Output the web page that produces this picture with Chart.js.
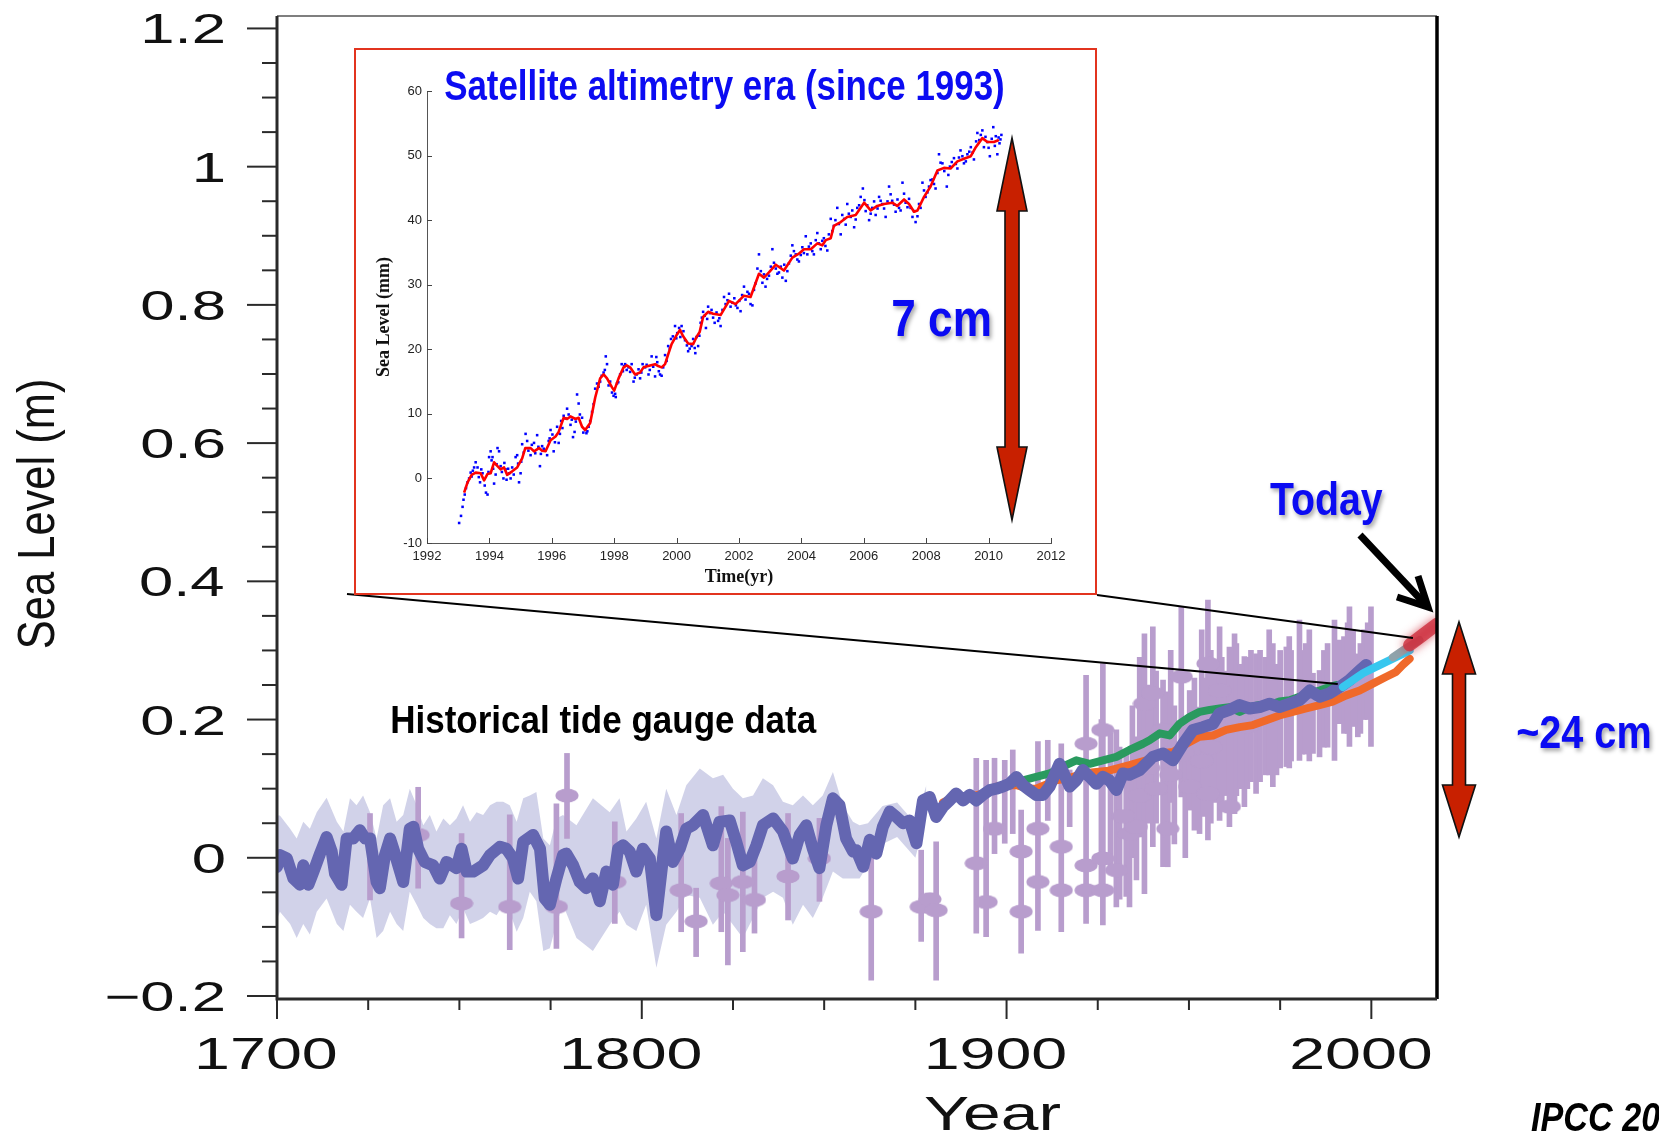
<!DOCTYPE html>
<html>
<head>
<meta charset="utf-8">
<title>Sea level since 1700</title>
<script src="https://cdn.jsdelivr.net/npm/chart.js@4.4.1/dist/chart.umd.min.js"></script>
<style>
  html, body { margin: 0; padding: 0; background: #fff; }
  #wrap { position: relative; width: 1659px; height: 1132px; overflow: hidden; }
  #main-chart { position: absolute; left: 0; top: 0; }
  #inset { position: absolute; left: 354px; top: 48px; width: 739px; height: 543px; border: 2px solid #e2341f; background: #fff; }
  #inset-chart { display: block; }
</style>
</head>
<body>
<div id="wrap">
  <canvas id="main-chart" width="1659" height="1132"></canvas>
  <div id="inset"><canvas id="inset-chart" width="739" height="543"></canvas></div>
</div>
<script>
// ---- main chart data (sea level in metres) ----
const reconstruction = [
  [1700.0, -0.013], [1700.8, 0.004], [1702.7, -0.001], [1704.5, -0.030], [1706.3, -0.039],
  [1707.2, -0.011], [1708.6, -0.039], [1710.0, -0.020], [1711.8, 0.006], [1713.6, 0.030],
  [1715.0, 0.009], [1715.9, -0.023], [1717.7, -0.039], [1719.1, 0.028], [1720.9, 0.028],
  [1722.7, 0.040], [1724.1, 0.028], [1725.5, 0.028], [1727.3, -0.035], [1728.2, -0.044],
  [1729.6, 0.004], [1731.0, 0.028], [1732.3, 0.006], [1734.6, -0.035], [1736.4, 0.042],
  [1737.4, 0.045], [1738.7, 0.013], [1740.5, -0.006], [1742.8, -0.011], [1744.6, -0.030],
  [1746.5, -0.006], [1749.2, -0.015], [1750.6, 0.013], [1752.0, -0.020], [1753.8, -0.020],
  [1756.5, -0.011], [1758.4, 0.004], [1761.1, 0.016], [1762.9, 0.013], [1764.7, -0.001],
  [1766.1, -0.030], [1767.5, 0.023], [1770.2, 0.033], [1772.1, 0.013], [1773.4, -0.059],
  [1774.8, -0.068], [1776.6, -0.030], [1778.4, 0.004], [1779.3, 0.006], [1781.2, -0.011],
  [1783.0, -0.035], [1784.8, -0.044], [1786.6, -0.030], [1788.5, -0.063], [1790.3, -0.020],
  [1792.1, -0.039], [1793.5, 0.013], [1794.9, 0.018], [1796.7, 0.009], [1798.5, -0.020],
  [1800.3, 0.013], [1802.2, -0.001], [1804.0, -0.083], [1805.8, -0.001], [1806.7, 0.038],
  [1808.5, -0.006], [1810.4, 0.013], [1812.2, 0.042], [1814.0, 0.047], [1816.8, 0.062],
  [1819.5, 0.018], [1821.3, 0.052], [1824.1, 0.054], [1825.9, 0.023], [1827.7, -0.011],
  [1829.6, -0.006], [1831.4, 0.018], [1833.2, 0.047], [1836.0, 0.057], [1838.7, 0.038],
  [1841.4, -0.001], [1843.3, 0.033], [1845.1, 0.047], [1846.9, 0.013], [1848.7, -0.015],
  [1850.6, 0.047], [1852.4, 0.086], [1854.2, 0.076], [1856.0, 0.028], [1857.9, 0.009],
  [1858.8, 0.011], [1860.7, -0.013], [1862.5, 0.026], [1864.3, 0.006], [1866.1, 0.045],
  [1868.0, 0.067], [1869.8, 0.059], [1871.6, 0.050], [1873.4, 0.054], [1875.3, 0.021],
  [1877.1, 0.083], [1878.9, 0.088], [1880.7, 0.059], [1882.6, 0.074], [1884.4, 0.083],
  [1886.2, 0.093], [1888.1, 0.083], [1889.9, 0.091], [1891.7, 0.083], [1893.5, 0.091],
  [1895.4, 0.098], [1897.2, 0.100], [1899.0, 0.103], [1900.8, 0.107], [1902.7, 0.117],
  [1904.5, 0.105], [1906.3, 0.098], [1908.1, 0.091], [1910.0, 0.091], [1911.8, 0.103],
  [1914.5, 0.136], [1917.3, 0.103], [1919.1, 0.112], [1920.9, 0.127], [1922.8, 0.117],
  [1924.6, 0.107], [1926.4, 0.117], [1928.2, 0.112], [1930.1, 0.098], [1931.9, 0.122],
  [1933.7, 0.120], [1936.5, 0.127], [1940.1, 0.146], [1942.9, 0.151], [1945.6, 0.141],
  [1948.4, 0.165], [1951.1, 0.185], [1953.8, 0.189], [1956.6, 0.194], [1958.4, 0.209],
  [1961.1, 0.214], [1963.9, 0.221], [1966.6, 0.216], [1969.4, 0.218], [1972.1, 0.223],
  [1974.8, 0.218], [1977.6, 0.223], [1980.3, 0.228], [1983.1, 0.242], [1985.8, 0.233],
  [1988.5, 0.238], [1991.3, 0.247], [1994.0, 0.257], [1996.8, 0.271], [1998.6, 0.279]
];

// uncertainty band of the reconstruction: [year, low, high]
const reconBand = [
  [1699.5, -0.096, 0.061], [1700.8, -0.078, 0.061], [1703.6, -0.096, 0.042], [1705.4, -0.116, 0.028],
  [1707.2, -0.096, 0.052], [1709.0, -0.111, 0.042], [1710.9, -0.078, 0.066], [1713.6, -0.059, 0.087],
  [1716.4, -0.096, 0.052], [1718.2, -0.106, 0.038], [1720.0, -0.068, 0.086], [1721.8, -0.078, 0.076],
  [1723.6, -0.087, 0.090], [1725.5, -0.059, 0.066], [1727.3, -0.116, 0.028], [1729.1, -0.106, 0.076],
  [1731.0, -0.078, 0.086], [1732.8, -0.096, 0.052], [1734.6, -0.106, 0.062], [1736.4, -0.049, 0.100],
  [1738.3, -0.068, 0.076], [1740.1, -0.087, 0.047], [1741.9, -0.096, 0.062], [1743.7, -0.102, 0.038],
  [1745.6, -0.102, 0.057], [1747.4, -0.083, 0.047], [1749.2, -0.096, 0.057], [1751.0, -0.073, 0.076],
  [1752.9, -0.096, 0.052], [1754.7, -0.092, 0.066], [1756.5, -0.087, 0.062], [1758.4, -0.078, 0.076],
  [1760.2, -0.083, 0.081], [1762.0, -0.068, 0.081], [1763.8, -0.078, 0.076], [1765.7, -0.107, 0.052],
  [1767.5, -0.087, 0.086], [1769.3, -0.049, 0.090], [1771.1, -0.063, 0.095], [1773.0, -0.135, 0.028],
  [1774.8, -0.131, 0.018], [1776.6, -0.096, 0.057], [1778.4, -0.068, 0.062], [1782.1, -0.116, 0.047],
  [1786.6, -0.135, 0.086], [1791.2, -0.097, 0.066], [1793.9, -0.078, 0.086], [1795.8, -0.097, 0.038],
  [1798.5, -0.106, 0.057], [1801.2, -0.068, 0.081], [1804.0, -0.159, 0.028], [1806.7, -0.097, 0.100],
  [1809.5, -0.078, 0.062], [1812.2, -0.054, 0.105], [1815.9, -0.058, 0.129], [1819.5, -0.097, 0.115],
  [1822.3, -0.078, 0.120], [1825.0, -0.097, 0.100], [1827.7, -0.116, 0.086], [1830.5, -0.087, 0.090],
  [1833.2, -0.058, 0.115], [1836.0, -0.049, 0.105], [1838.7, -0.058, 0.081], [1841.4, -0.097, 0.076],
  [1844.2, -0.068, 0.090], [1846.9, -0.087, 0.076], [1849.6, -0.058, 0.090], [1852.4, -0.020, 0.124],
  [1855.1, -0.030, 0.076], [1857.9, -0.030, 0.052], [1859.7, -0.030, 0.047], [1862.0, -0.010, 0.050],
  [1866.0, 0.020, 0.075], [1870.0, 0.030, 0.080], [1875.0, 0.000, 0.050], [1878.0, 0.060, 0.105]
];

// individual tide-gauge estimates: [year, low, high]
const gaugeBars = [
  [1725.5, -0.061, 0.064], [1738.7, -0.044, 0.102], [1750.6, -0.116, 0.035], [1763.8, -0.133, 0.062],
  [1776.6, -0.131, 0.078], [1779.5, 0.028, 0.151], [1792.6, -0.095, 0.052], [1810.8, -0.107, 0.064],
  [1814.9, -0.143, -0.044], [1821.8, -0.107, 0.074], [1823.6, -0.155, 0.028], [1827.7, -0.136, 0.066],
  [1830.9, -0.109, 0.013], [1840.1, -0.090, 0.064], [1848.7, -0.063, 0.057], [1862.9, -0.177, 0.016],
  [1876.6, -0.121, 0.011], [1880.7, -0.177, 0.023], [1891.7, -0.109, 0.144], [1894.4, -0.114, 0.141],
  [1896.7, 0.006, 0.144], [1899.5, 0.021, 0.141], [1901.7, 0.035, 0.156], [1904.0, -0.138, 0.069],
  [1908.6, -0.105, 0.168], [1911.3, 0.054, 0.170], [1915.0, -0.107, 0.165], [1917.3, 0.045, 0.127],
  [1921.8, -0.095, 0.264], [1926.0, -0.050, 0.200], [1926.4, -0.097, 0.281], [1928.5, -0.020, 0.180],
  [1930.1, -0.071, 0.185], [1931.0, -0.060, 0.160], [1932.8, -0.056, 0.151], [1933.7, -0.071, 0.132],
  [1934.5, 0.000, 0.220], [1935.6, -0.032, 0.175], [1936.5, 0.030, 0.290], [1937.8, -0.052, 0.324],
  [1939.0, 0.050, 0.250], [1940.1, 0.016, 0.334], [1941.0, 0.050, 0.270], [1942.9, -0.013, 0.257],
  [1943.5, 0.030, 0.240], [1944.2, -0.013, 0.132], [1945.0, 0.080, 0.300], [1946.0, 0.020, 0.220],
  [1947.9, 0.088, 0.363], [1949.0, 0.000, 0.200], [1950.2, 0.069, 0.242], [1951.5, 0.040, 0.260],
  [1952.9, 0.035, 0.218], [1953.5, 0.100, 0.330], [1954.0, 0.060, 0.260], [1955.2, 0.026, 0.373],
  [1956.0, 0.050, 0.300], [1957.0, 0.080, 0.280], [1958.4, 0.054, 0.334], [1959.0, 0.070, 0.290],
  [1960.0, 0.090, 0.270], [1961.1, 0.045, 0.305], [1962.5, 0.064, 0.324], [1963.0, 0.090, 0.310],
  [1964.0, 0.100, 0.280], [1965.2, 0.074, 0.291], [1966.0, 0.100, 0.290], [1967.0, 0.110, 0.300],
  [1968.4, 0.093, 0.295], [1969.5, 0.110, 0.300], [1971.0, 0.120, 0.290], [1972.0, 0.120, 0.330],
  [1973.0, 0.103, 0.310], [1974.0, 0.120, 0.280], [1975.0, 0.130, 0.300], [1976.7, 0.132, 0.305],
  [1977.5, 0.130, 0.320], [1978.0, 0.140, 0.300], [1980.3, 0.141, 0.344], [1981.0, 0.150, 0.300],
  [1982.0, 0.150, 0.310], [1983.0, 0.140, 0.330], [1984.0, 0.151, 0.267], [1985.8, 0.146, 0.271],
  [1987.0, 0.160, 0.300], [1988.0, 0.160, 0.310], [1989.9, 0.141, 0.344], [1991.3, 0.194, 0.315],
  [1992.5, 0.180, 0.320], [1993.5, 0.180, 0.340], [1994.0, 0.161, 0.363], [1995.0, 0.190, 0.330],
  [1996.3, 0.175, 0.295], [1997.0, 0.180, 0.310], [1998.0, 0.200, 0.330], [1999.0, 0.200, 0.340],
  [1999.9, 0.161, 0.363]
];

// central estimates drawn as ellipses on the gauge bars: [year, level]
const gaugeMarkers = [
  [1738.7, 0.033], [1750.6, -0.066], [1763.8, -0.071], [1776.6, -0.071], [1779.5, 0.090],
  [1792.6, -0.035], [1810.8, -0.047], [1814.9, -0.092], [1821.8, -0.037], [1823.6, -0.054],
  [1827.7, -0.035], [1830.9, -0.061], [1840.1, -0.027], [1848.7, -0.001], [1862.9, -0.078],
  [1876.6, -0.071], [1879.0, -0.060], [1880.7, -0.076], [1891.7, -0.008], [1894.4, -0.064],
  [1896.7, 0.042], [1904.0, 0.009], [1904.0, -0.078], [1908.6, 0.042], [1908.6, -0.035],
  [1915.0, 0.016], [1915.0, -0.047], [1921.8, 0.165], [1921.8, -0.011], [1921.8, -0.047],
  [1926.4, 0.185], [1926.4, -0.001], [1926.4, -0.047], [1930.1, -0.018], [1933.7, 0.035],
  [1935.6, 0.045], [1937.8, 0.223], [1940.1, 0.238], [1942.9, 0.185], [1944.2, 0.042],
  [1947.9, 0.262], [1950.2, 0.103], [1955.2, 0.281], [1955.2, 0.093], [1958.4, 0.242],
  [1961.1, 0.074], [1932.0, 0.060], [1936.5, 0.090], [1939.0, 0.130], [1941.0, 0.100],
  [1945.0, 0.120], [1948.5, 0.150], [1951.5, 0.170], [1953.5, 0.140], [1956.0, 0.160],
  [1959.0, 0.190], [1963.0, 0.200], [1966.0, 0.190], [1970.0, 0.210]
];

const orangeRecord = [
  [1882.6, 0.080], [1886.0, 0.088], [1890.0, 0.088], [1893.5, 0.093], [1897.2, 0.103],
  [1900.0, 0.105], [1902.7, 0.105], [1906.0, 0.100], [1908.1, 0.100], [1913.6, 0.112],
  [1917.0, 0.115], [1920.9, 0.122], [1924.6, 0.124], [1928.0, 0.126], [1930.1, 0.129],
  [1933.7, 0.134], [1938.3, 0.141], [1942.0, 0.151], [1945.6, 0.153], [1949.3, 0.165],
  [1952.9, 0.175], [1956.6, 0.177], [1960.2, 0.185], [1963.9, 0.189], [1967.5, 0.192],
  [1971.2, 0.199], [1974.8, 0.206], [1978.5, 0.211], [1982.1, 0.216], [1985.8, 0.221],
  [1989.4, 0.226], [1993.1, 0.235], [1996.8, 0.242], [2000.4, 0.252], [2004.1, 0.262],
  [2006.8, 0.269], [2008.6, 0.279], [2010.5, 0.288]
];

const greenRecord = [
  [1900.8, 0.107], [1904.5, 0.112], [1908.1, 0.117], [1911.8, 0.122], [1915.4, 0.132],
  [1919.1, 0.141], [1922.8, 0.136], [1926.4, 0.141], [1930.1, 0.146], [1933.7, 0.156],
  [1937.4, 0.165], [1939.2, 0.170], [1942.0, 0.180], [1944.7, 0.177], [1947.4, 0.194],
  [1950.2, 0.204], [1952.9, 0.211], [1955.7, 0.214], [1958.4, 0.216], [1961.1, 0.218],
  [1963.9, 0.211], [1966.6, 0.218], [1969.4, 0.221], [1972.1, 0.221], [1974.8, 0.226],
  [1977.6, 0.228], [1980.3, 0.233], [1983.1, 0.238], [1985.8, 0.242], [1988.5, 0.247],
  [1990.4, 0.250]
];

const satelliteRecord = [
  [1992.2, 0.247], [1994.9, 0.257], [1997.7, 0.267], [2000.4, 0.274], [2003.1, 0.281],
  [2005.9, 0.288], [2008.6, 0.295], [2010.5, 0.300]
];

const greyRecord = [[2005.9, 0.290], [2009.5, 0.303], [2013.2, 0.315]];
const todayRecord = [[2010.5, 0.308], [2014.0, 0.322], [2018.0, 0.338]];

const xTickValues = [1700, 1800, 1900, 2000];
const xTickLabels = ['1700', '1800', '1900', '2000'];
const yTickValues = [-0.2, 0, 0.2, 0.4, 0.6, 0.8, 1, 1.2];
const yTickLabels = ['\u22120.2', '0', '0.2', '0.4', '0.6', '0.8', '1', '1.2'];

// ---- inset data (satellite altimetry, mm) ----
const altSmoothYears = [
  1993.19, 1993.30, 1993.43, 1993.56, 1993.72, 1993.83, 1993.94, 1994.04, 1994.15, 1994.26,
  1994.36, 1994.47, 1994.57, 1994.73, 1994.89, 1995.05, 1995.15, 1995.32, 1995.43, 1995.59,
  1995.69, 1995.80, 1995.96, 1996.12, 1996.22, 1996.38, 1996.49, 1996.60, 1996.76, 1996.86,
  1996.97, 1997.07, 1997.23, 1997.39, 1997.55, 1997.66, 1997.77, 1997.93, 1998.00, 1998.14,
  1998.30, 1998.40, 1998.51, 1998.67, 1998.83, 1998.94, 1999.15, 1999.31, 1999.41, 1999.52,
  1999.63, 1999.73, 1999.84, 2000.00, 2000.11, 2000.21, 2000.37, 2000.53, 2000.64, 2000.74,
  2000.85, 2001.01, 2001.17, 2001.41, 2001.68, 2001.89, 2002.16, 2002.37, 2002.64, 2002.80,
  2002.96, 2003.18, 2003.44, 2003.71, 2003.92, 2004.08, 2004.30, 2004.51, 2004.67, 2004.78,
  2004.94, 2005.04, 2005.26, 2005.47, 2005.74, 2006.01, 2006.22, 2006.43, 2006.65, 2006.91,
  2007.07, 2007.29, 2007.45, 2007.61, 2007.72, 2007.93, 2008.14, 2008.36, 2008.57, 2008.78,
  2009.00, 2009.21, 2009.43, 2009.59, 2009.80, 2009.96, 2010.17, 2010.33
];
const altSmoothLevel = [
  -2.2, -0.6, 0.55, 0.9, 0.8, -0.3, 0.7, 0.8, 2.5, 1.9,
  1.4, 1.7, 0.55, 1.1, 1.7, 3.1, 4.7, 4.7, 4.2, 4.7,
  4.3, 4.2, 5.9, 6.5, 7.2, 9.4, 9.2, 9.6, 9.2, 9.4,
  8.0, 7.5, 8.6, 12.5, 15.5, 16.1, 15.5, 14.1, 13.6, 15.5,
  17.2, 17.5, 17.2, 16.1, 16.4, 17.2, 17.5, 17.7, 17.4, 17.2,
  17.7, 19.2, 20.8, 22.2, 23.0, 22.0, 20.9, 20.8, 21.9, 22.7,
  25.0, 25.8, 25.5, 25.3, 27.5, 27.0, 28.3, 28.1, 31.7, 31.1,
  31.9, 33.1, 32.2, 34.2, 34.8, 35.5, 35.5, 36.4, 36.1, 36.9,
  37.2, 39.1, 39.7, 40.5, 40.8, 42.7, 41.5, 42.2, 42.5, 42.7,
  42.2, 43.2, 42.5, 41.3, 41.5, 43.6, 45.2, 47.7, 48.1, 48.0,
  49.1, 49.5, 49.9, 51.3, 52.7, 52.1, 52.1, 52.4
];

const altDotYears = [
  1993.03, 1993.09, 1993.14, 1993.17, 1993.21, 1993.30, 1993.35, 1993.43, 1993.51, 1993.56,
  1993.62, 1993.70, 1993.78, 1993.85, 1993.89, 1993.94, 1993.99, 1994.04, 1994.10, 1994.15,
  1994.20, 1994.26, 1994.31, 1994.36, 1994.45, 1994.52, 1994.63, 1994.68, 1994.73, 1994.84,
  1994.89, 1994.95, 1995.00, 1995.05, 1995.16, 1995.21, 1995.32, 1995.43, 1995.53, 1995.62,
  1995.69, 1995.80, 1995.90, 1995.96, 1996.06, 1996.17, 1996.22, 1996.30, 1996.38, 1996.49,
  1996.60, 1996.68, 1996.73, 1996.81, 1996.86, 1996.97, 1997.07, 1997.18, 1997.29, 1997.39,
  1997.45, 1997.55, 1997.66, 1997.73, 1997.77, 1997.87, 1997.93, 1997.98, 1998.09, 1998.19,
  1998.24, 1998.35, 1998.46, 1998.56, 1998.62, 1998.72, 1998.83, 1998.91, 1998.99, 1999.10,
  1999.20, 1999.31, 1999.38, 1999.47, 1999.57, 1999.63, 1999.73, 1999.82, 1999.95, 2000.02,
  2000.16, 2000.27, 2000.37, 2000.48, 2000.53, 2000.64, 2000.69, 2000.77, 2000.85, 2000.94,
  2001.01, 2001.12, 2001.22, 2001.33,
  2001.41, 2001.52, 2001.68, 2001.79, 2001.95, 2002.05, 2002.16, 2002.27, 2002.37, 2002.48,
  2002.59, 2002.64, 2002.75, 2002.85, 2002.96, 2003.07, 2003.18, 2003.28, 2003.39, 2003.50,
  2003.60, 2003.71, 2003.82, 2003.92, 2004.03, 2004.14, 2004.19, 2004.30, 2004.40, 2004.51,
  2004.62, 2004.72, 2004.83, 2004.94, 2005.04, 2005.15, 2005.26, 2005.37, 2005.47, 2005.58,
  2005.69, 2005.79, 2005.90, 2005.97, 2006.06, 2006.17, 2006.27, 2006.38, 2006.49, 2006.59,
  2006.70, 2006.81, 2006.91, 2007.02, 2007.13, 2007.24, 2007.34, 2007.45, 2007.56, 2007.66,
  2007.77, 2007.88, 2007.98, 2008.09, 2008.20, 2008.30, 2008.41, 2008.52, 2008.66, 2008.76,
  2008.89, 2009.00, 2009.10, 2009.21, 2009.32, 2009.43, 2009.53, 2009.64, 2009.75, 2009.85,
  2009.96, 2010.04, 2010.15, 2010.23, 2010.28, 2010.35, 2010.41
];
const altDotLevel = [
  -6.9, -5.8, -4.4, -3.3, -2.5, -0.6, 0, 0.3, 1.7, 2.5,
  1.7, -0.6, 0.8, -1.1, -2.2, -2.5, 3.3, 4.2, 3.3, -0.8,
  0.6, 4.7, 4.2, 1.9, 0, 1.4, 0.8, 0, 1.7, 3.3,
  3.6, -0.6, 0.8, 5.3, 6.9, 5.8, 3.6, 5.5, 6.7, 1.9,
  5.0, 4.4, 5.8, 7.5, 4.2, 8.0, 5.5, 8.9, 9.7, 10.8,
  8.3, 6.4, 7.2, 13.0, 11.6, 9.4, 7.5, 8.0, 10.3, 13.9,
  14.7, 15.0, 16.4, 18.9, 17.7, 15.0, 13.3, 12.8, 14.7, 16.1,
  17.7, 17.7, 17.2, 17.7, 15.0, 16.1, 15.5, 17.7, 17.2, 16.1,
  18.9, 15.8, 18.0, 16.1, 17.2, 19.1, 20.5, 21.6, 23.6, 22.5,
  23.6, 21.4, 19.7, 20.5, 21.6, 21.9, 20.5, 24.1, 25.8, 23.3,
  26.6, 26.1, 24.1, 24.4,
  23.6, 28.1, 28.6, 27.2, 26.4, 25.9, 29.7, 28.9, 27.0, 29.2,
  32.5, 34.7, 30.3, 29.7, 31.4, 35.5, 32.5, 31.9, 31.1, 30.6,
  33.3, 36.1, 34.7, 33.6, 35.8, 37.5, 34.7, 36.4, 34.7, 38.0,
  35.5, 37.2, 35.3, 40.2, 39.1, 41.9, 37.8, 40.2, 42.5, 40.5,
  38.9, 41.9, 43.6, 44.9, 41.4, 40.0, 41.9, 40.8, 43.6, 42.5,
  40.5, 45.2, 43.0, 41.3, 41.9, 45.8, 42.7, 43.3, 40.5, 39.7,
  42.5, 45.8, 43.6, 45.2, 46.3, 44.9, 50.2, 48.8, 45.2, 48.3,
  49.6, 48.0, 50.8, 48.8, 50.2, 51.3, 49.4, 53.5, 53.2, 51.3,
  52.1, 49.9, 54.4, 53.0, 50.2, 51.9, 53.2
];

// the denser run of 10-day values that sit close to the smoothed curve: [year, mm]
const altDotsNear = [
  [1993.25, -1.5], [1993.40, 0.9], [1993.47, 1.2], [1993.66, 0.2], [1993.74, 1.4], [1993.97, 1.0],
  [1994.07, 2.8], [1994.12, 1.5], [1994.23, 2.2], [1994.40, 1.0], [1994.48, 2.4], [1994.55, -0.2],
  [1994.60, 1.5], [1994.78, 0.6], [1994.92, 2.3], [1995.02, 2.6], [1995.10, 4.0], [1995.25, 4.3],
  [1995.36, 5.2], [1995.47, 3.9], [1995.57, 4.9], [1995.65, 3.8], [1995.74, 4.6], [1995.85, 3.6],
  [1995.93, 6.2], [1996.02, 6.8], [1996.10, 5.6], [1996.26, 6.9], [1996.34, 7.8], [1996.44, 9.3],
  [1996.54, 9.9], [1996.64, 9.1], [1996.77, 8.8], [1996.90, 9.9], [1997.01, 7.1], [1997.11, 7.0],
  [1997.14, 7.3], [1997.23, 8.9], [1997.34, 11.5], [1997.50, 14.2], [1997.60, 15.9], [1997.70, 16.8],
  [1997.82, 14.4], [1998.03, 13.1], [1998.05, 12.6], [1998.13, 14.9], [1998.28, 16.6], [1998.32, 17.4],
  [1998.40, 16.8], [1998.51, 16.5], [1998.66, 15.6], [1998.78, 16.9], [1998.87, 16.4], [1999.04, 17.6],
  [1999.14, 16.8], [1999.25, 17.3], [1999.35, 18.8], [1999.43, 16.6], [1999.52, 15.9], [1999.68, 18.2],
  [1999.78, 20.1], [1999.88, 22.0], [1999.99, 21.7], [2000.08, 23.3], [2000.12, 21.9], [2000.22, 22.8],
  [2000.33, 20.6], [2000.42, 20.1], [2000.58, 20.2], [2000.60, 19.4], [2000.73, 22.1], [2000.81, 24.9],
  [2000.90, 25.2], [2000.98, 24.7], [2001.07, 25.6], [2001.17, 24.9], [2001.28, 25.7], [2001.37, 24.8],
  [2001.47, 26.1], [2001.57, 27.0], [2001.63, 27.6], [2001.73, 26.6], [2001.85, 27.9], [2001.90, 26.8],
  [2002.01, 27.5], [2002.10, 28.4], [2002.21, 27.7], [2002.32, 28.6], [2002.43, 26.8], [2002.53, 30.2],
  [2002.70, 32.1], [2002.80, 31.6], [2002.90, 30.9], [2003.02, 32.8], [2003.12, 33.4], [2003.23, 31.7],
  [2003.34, 32.8], [2003.45, 33.1], [2003.55, 32.1], [2003.66, 34.5], [2003.76, 35.2], [2003.87, 33.9],
  [2003.98, 34.6], [2004.08, 34.9], [2004.24, 35.9], [2004.35, 35.2], [2004.46, 36.9], [2004.56, 36.4],
  [2004.67, 36.8], [2004.77, 36.0], [2004.88, 37.8], [2004.99, 38.3], [2005.09, 40.0], [2005.20, 39.4],
  [2005.31, 40.8], [2005.42, 39.3], [2005.52, 41.0], [2005.63, 41.5], [2005.74, 40.1], [2005.85, 42.3],
  [2006.02, 43.1], [2006.11, 42.3], [2006.22, 41.0], [2006.33, 42.9], [2006.44, 41.8], [2006.54, 43.0],
  [2006.65, 41.8], [2006.76, 42.9], [2006.86, 44.0], [2006.97, 42.4], [2007.08, 43.2], [2007.18, 41.5],
  [2007.29, 44.1], [2007.40, 42.0], [2007.50, 41.9], [2007.61, 41.4], [2007.72, 40.6], [2007.82, 41.9],
  [2007.93, 44.6], [2008.04, 44.3], [2008.14, 46.2], [2008.25, 45.6], [2008.36, 47.3], [2008.46, 48.9],
  [2008.58, 47.6], [2008.71, 47.0], [2008.82, 49.0], [2008.95, 48.7], [2009.05, 49.7], [2009.16, 49.9],
  [2009.27, 49.1], [2009.38, 50.6], [2009.49, 50.5], [2009.60, 52.2], [2009.70, 52.4], [2009.80, 53.9],
  [2009.90, 52.9], [2010.00, 51.2], [2010.10, 52.6], [2010.20, 51.5], [2010.32, 52.8], [2010.38, 52.5]
];

// ---- helpers ----
const gaugeColor = 'rgb(184,157,205)';
const blue = '#0b0bf2';
const narrow = '"Liberation Sans Narrow", "Liberation Sans", Arial, sans-serif';
const wide = '"Liberation Sans", Arial, sans-serif';

const pairs = rows => rows.map(r => ({x: r[0], y: r[1]}));
const zipXY = (xs, ys) => xs.map((x, i) => ({x: x, y: ys[i]}));

function inkWidth(ctx, text, font) {
    ctx.save();
    ctx.font = font;
    const m = ctx.measureText(text);
    ctx.restore();
    return m.actualBoundingBoxLeft + m.actualBoundingBoxRight;
}

// draw text squeezed/stretched horizontally so its ink matches a width
function drawText(ctx, text, x, y, o) {
    ctx.save();
    ctx.font = o.font;
    ctx.textAlign = 'left';
    ctx.textBaseline = 'alphabetic';
    const m = ctx.measureText(text);
    const ink = m.actualBoundingBoxLeft + m.actualBoundingBoxRight;
    const sx = o.width ? o.width / ink : (o.sx || 1);
    ctx.translate(x, y);
    if (o.rotate) ctx.rotate(o.rotate);
    ctx.scale(sx, 1);
    let dx = m.actualBoundingBoxLeft;
    if (o.align === 'center') dx -= ink / 2;
    if (o.align === 'right') dx -= ink;
    if (o.shadow) {
        ctx.shadowColor = 'rgba(0,0,0,0.35)';
        ctx.shadowBlur = 4;
        ctx.shadowOffsetX = 2;
        ctx.shadowOffsetY = 3;
    }
    ctx.fillStyle = o.color || '#000';
    ctx.fillText(text, dx, 0);
    ctx.restore();
}

function doubleArrow(ctx, cx, top, bottom, headHalf, headLen, shaftHalf) {
    ctx.save();
    ctx.beginPath();
    ctx.moveTo(cx, top);
    ctx.lineTo(cx + headHalf, top + headLen);
    ctx.lineTo(cx + shaftHalf, top + headLen);
    ctx.lineTo(cx + shaftHalf, bottom - headLen);
    ctx.lineTo(cx + headHalf, bottom - headLen);
    ctx.lineTo(cx, bottom);
    ctx.lineTo(cx - headHalf, bottom - headLen);
    ctx.lineTo(cx - shaftHalf, bottom - headLen);
    ctx.lineTo(cx - shaftHalf, top + headLen);
    ctx.lineTo(cx - headHalf, top + headLen);
    ctx.closePath();
    ctx.fillStyle = '#c82000';
    ctx.fill();
    ctx.lineWidth = 1.6;
    ctx.strokeStyle = '#111';
    ctx.stroke();
    ctx.restore();
}

function line(ctx, x1, y1, x2, y2) {
    ctx.beginPath();
    ctx.moveTo(x1, y1);
    ctx.lineTo(x2, y2);
    ctx.stroke();
}

// ellipse marker used for the tide gauge points
const ellipse = document.createElement('canvas');
ellipse.width = 24;
ellipse.height = 15;
(function () {
    const ec = ellipse.getContext('2d');
    ec.fillStyle = gaugeColor;
    ec.beginPath();
    ec.ellipse(12, 7.5, 11.5, 7, 0, 0, Math.PI * 2);
    ec.fill();
})();

// ---- main chart plugin: glow, axes, labels, annotations ----
const mainDecor = {
    id: 'mainDecor',
    beforeDatasetDraw(chart, args) {
        const ds = chart.data.datasets[args.index];
        if (ds.glow) {
            chart.ctx.save();
            chart.ctx.shadowColor = ds.glow;
            chart.ctx.shadowBlur = 10;
        }
    },
    afterDatasetDraw(chart, args) {
        if (chart.data.datasets[args.index].glow) chart.ctx.restore();
    },
    afterDraw(chart) {
        const {ctx, chartArea: a, scales: {x, y}} = chart;
        const axisY = a.bottom + 3;
        ctx.save();

        // connector lines from the inset to the satellite era
        ctx.strokeStyle = '#000';
        ctx.lineWidth = 2;
        line(ctx, 347, 594, x.getPixelForValue(1990.8), y.getPixelForValue(0.2515));
        line(ctx, 1097, 595, x.getPixelForValue(2011.4), y.getPixelForValue(0.318));

        // frame
        ctx.strokeStyle = '#555';
        ctx.lineWidth = 1.5;
        line(ctx, a.left, a.top, a.right, a.top);
        ctx.strokeStyle = '#000';
        ctx.lineWidth = 3.5;
        line(ctx, a.right, a.top, a.right, axisY);
        ctx.strokeStyle = '#2a2a2a';
        ctx.lineWidth = 3;
        ctx.beginPath();
        ctx.moveTo(a.left, a.top);
        ctx.lineTo(a.left, axisY);
        ctx.lineTo(a.right, axisY);
        ctx.stroke();

        // tick marks
        ctx.lineWidth = 2;
        for (let i = 0; i <= 28; i++) {
            const py = y.getPixelForValue(-0.2 + i * 0.05);
            const len = i % 4 === 0 ? 30 : 15;
            line(ctx, a.left - len, py, a.left, py);
        }
        for (let yr = 1700; yr <= 2000; yr += 25) {
            const px = x.getPixelForValue(yr);
            const len = yr % 100 === 0 ? 20 : 11;
            line(ctx, px, axisY, px, axisY + len);
        }

        // tick labels (wide lettering)
        const sx = 137 / inkWidth(ctx, '1700', '44px ' + wide);
        yTickValues.forEach((v, i) => {
            drawText(ctx, yTickLabels[i], 224, y.getPixelForValue(v) + 15,
                {font: '42px ' + wide, sx: sx, align: 'right', color: '#111'});
        });
        xTickValues.forEach((v, i) => {
            drawText(ctx, xTickLabels[i], x.getPixelForValue(v) - 10, 1069,
                {font: '44px ' + wide, sx: sx, align: 'center', color: '#111'});
        });

        // axis titles
        drawText(ctx, 'Year', 993, 1130, {font: '49px ' + wide, width: 135, align: 'center', color: '#111'});
        drawText(ctx, 'Sea Level (m)', 54, 514,
            {font: '52px ' + narrow, width: 267, align: 'center', rotate: -Math.PI / 2, color: '#111'});

        // annotations
        drawText(ctx, 'Historical tide gauge data', 392, 733, {font: 'bold 38px ' + narrow, width: 425});
        drawText(ctx, 'Today', 1270, 515, {font: 'bold 46px ' + narrow, width: 113, color: blue, shadow: true});
        drawText(ctx, '~24 cm', 1517, 748, {font: 'bold 46px ' + narrow, width: 133, color: blue, shadow: true});
        const ipccSx = 129 / inkWidth(ctx, 'IPCC 20', 'italic bold 40px ' + narrow);
        drawText(ctx, 'IPCC 2013', 1531, 1131, {font: 'italic bold 40px ' + narrow, sx: ipccSx});

        doubleArrow(ctx, 1459, 622, 837, 16.5, 52, 6.5);

        // "Today" pointer
        ctx.strokeStyle = '#000';
        ctx.lineWidth = 7;
        ctx.lineCap = 'butt';
        line(ctx, 1360, 535, 1425, 604);
        ctx.lineJoin = 'miter';
        ctx.beginPath();
        ctx.moveTo(1418, 576);
        ctx.lineTo(1428, 607);
        ctx.lineTo(1397, 597);
        ctx.stroke();

        ctx.restore();
    }
};

const mainChart = new Chart(document.getElementById('main-chart'), {
    type: 'line',
    data: {
        datasets: [
            {label: 'band low', data: pairs(reconBand.map(r => [r[0], r[1]])), borderWidth: 0, pointRadius: 0, fill: false, order: 11},
            {label: 'band high', data: pairs(reconBand.map(r => [r[0], r[2]])), borderWidth: 0, pointRadius: 0,
                fill: '-1', backgroundColor: 'rgba(104,106,182,0.30)', order: 10},
            {type: 'bar', label: 'tide gauges', data: gaugeBars.map(r => ({x: r[0], y: [r[1], r[2]]})),
                backgroundColor: gaugeColor, barThickness: 5, borderWidth: 0, order: 9},
            {label: 'gauge markers', data: pairs(gaugeMarkers), showLine: false, pointStyle: ellipse,
                pointRadius: 8, order: 8},
            {label: 'orange', data: pairs(orangeRecord), borderColor: '#f0692a', borderWidth: 8, pointRadius: 0, order: 7},
            {label: 'green', data: pairs(greenRecord), borderColor: '#2a9a5f', borderWidth: 8, pointRadius: 0, order: 6},
            {label: 'reconstruction', data: pairs(reconstruction), borderColor: '#6466b1', borderWidth: 12, pointRadius: 0, order: 5},
            {label: 'satellite', data: pairs(satelliteRecord), borderColor: '#37c7ef', borderWidth: 8, pointRadius: 0, order: 4},
            {label: 'grey', data: pairs(greyRecord), borderColor: '#8fa3ab', borderWidth: 8, pointRadius: 0, order: 3},
            {label: 'today', data: pairs(todayRecord), borderColor: 'rgba(206,48,62,0.8)', borderWidth: 13,
                pointRadius: 0, glow: 'rgba(206,48,62,0.9)', order: 2}
        ]
    },
    options: {
        responsive: false,
        animation: false,
        devicePixelRatio: 1,
        layout: {padding: {left: 277, right: 222, top: 16, bottom: 136}},
        plugins: {legend: {display: false}, tooltip: {enabled: false}},
        elements: {
            line: {tension: 0, fill: false, borderJoinStyle: 'round', borderCapStyle: 'round'},
            point: {radius: 0}
        },
        scales: {
            x: {type: 'linear', min: 1700, max: 2018, display: false, offset: false, grid: {offset: false}},
            y: {type: 'linear', min: -0.2, max: 1.218, display: false, beginAtZero: false}
        }
    },
    plugins: [mainDecor]
});

// ---- inset chart ----
const insetDecor = {
    id: 'insetDecor',
    afterDraw(chart) {
        const {ctx, chartArea: a, scales: {x, y}} = chart;
        ctx.save();
        ctx.strokeStyle = '#444';
        ctx.lineWidth = 1;
        for (let v = -10; v <= 60; v += 10) {
            const py = Math.round(y.getPixelForValue(v)) + 0.5;
            line(ctx, a.left, py, a.left + 5, py);
        }
        for (let yr = 1992; yr <= 2012; yr += 2) {
            const px = Math.round(x.getPixelForValue(yr)) + 0.5;
            line(ctx, px, a.bottom, px, a.bottom - 5);
        }
        drawText(ctx, 'Satellite altimetry era (since 1993)', 89, 50,
            {font: 'bold 42px ' + narrow, width: 558, color: blue});
        drawText(ctx, '7 cm', 537, 286, {font: 'bold 52px ' + narrow, width: 97, color: blue, shadow: true});
        doubleArrow(ctx, 656, 88, 470, 15, 73, 7);
        ctx.restore();
    }
};

const insetChart = new Chart(document.getElementById('inset-chart'), {
    type: 'line',
    data: {
        datasets: [
            {label: 'altimetry', data: zipXY(altDotYears, altDotLevel).concat(pairs(altDotsNear)), showLine: false,
                pointStyle: 'rect', pointRadius: 1.8, backgroundColor: '#0000ff', borderWidth: 0, order: 2},
            {label: 'smoothed', data: zipXY(altSmoothYears, altSmoothLevel), borderColor: '#ff0000',
                borderWidth: 2.6, pointRadius: 0, order: 1}
        ]
    },
    options: {
        responsive: false,
        animation: false,
        devicePixelRatio: 1,
        layout: {padding: {left: 0, right: 44, top: 41, bottom: 0}},
        plugins: {legend: {display: false}, tooltip: {enabled: false}},
        elements: {line: {tension: 0, fill: false, borderJoinStyle: 'round'}},
        scales: {
            x: {
                type: 'linear', min: 1992, max: 2012,
                grid: {display: false, drawTicks: false},
                border: {display: true, color: '#555', width: 1},
                ticks: {stepSize: 2, autoSkip: false, maxRotation: 0, padding: 6, color: '#222',
                    font: {family: wide, size: 13}, callback: v => String(v)},
                title: {display: true, text: 'Time(yr)', color: '#111', padding: {top: 0, bottom: 5},
                    font: {family: '"Liberation Serif", "Times New Roman", serif', size: 18, weight: 'bold'}},
                afterFit(scale) { scale.height = 50; }
            },
            y: {
                type: 'linear', min: -10, max: 60,
                grid: {display: false, drawTicks: false},
                border: {display: true, color: '#555', width: 1},
                ticks: {stepSize: 10, padding: 5, color: '#222', font: {family: wide, size: 13},
                    callback: v => String(v)},
                title: {display: true, text: 'Sea Level (mm)', color: '#111', padding: {top: 18, bottom: 0},
                    font: {family: '"Liberation Serif", "Times New Roman", serif', size: 18, weight: 'bold'}},
                afterFit(scale) { scale.width = 71; }
            }
        }
    },
    plugins: [insetDecor]
});
</script>
</body>
</html>
